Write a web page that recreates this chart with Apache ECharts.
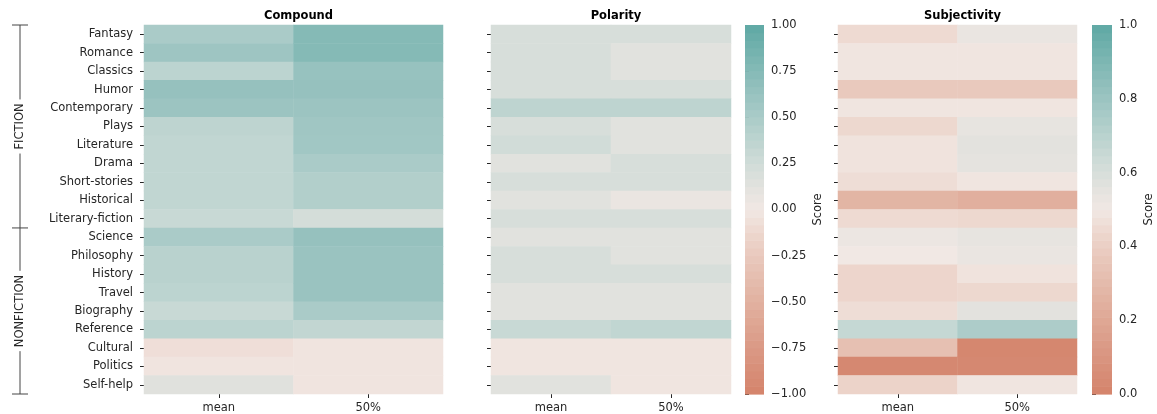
<!DOCTYPE html>
<html>
<head>
<meta charset="utf-8">
<title>Sentiment scores by genre</title>
<script src="https://cdn.jsdelivr.net/npm/echarts@6/dist/echarts.min.js"></script>
<style>
  html, body { margin: 0; padding: 0; background: #ffffff; }
  #chart { width: 1157px; height: 414px; }
</style>
</head>
<body>
<div id="chart"></div>
<script>
// ---- data ----
const genres = ['Fantasy', 'Romance', 'Classics', 'Humor', 'Contemporary', 'Plays', 'Literature',
  'Drama', 'Short-stories', 'Historical', 'Literary-fiction', 'Science', 'Philosophy', 'History',
  'Travel', 'Biography', 'Reference', 'Cultural', 'Politics', 'Self-help'];
const statColumns = ['mean', '50%'];
const groupNames = ['FICTION', 'NONFICTION'];
const groupSizes = [11, 9];
const panelTitles = ['Compound', 'Polarity', 'Subjectivity'];

const compoundMean   = [0.50, 0.58, 0.38, 0.64, 0.60, 0.37, 0.35, 0.35, 0.35, 0.35, 0.30, 0.50, 0.40, 0.40, 0.38, 0.30, 0.38, -0.07, -0.03, 0.14];
const compoundMedian = [0.75, 0.75, 0.63, 0.64, 0.60, 0.57, 0.56, 0.50, 0.45, 0.45, 0.22, 0.64, 0.61, 0.61, 0.61, 0.50, 0.34, -0.03, -0.03, -0.03];
const polarityMean   = [0.20, 0.20, 0.20, 0.20, 0.37, 0.20, 0.24, 0.13, 0.20, 0.13, 0.20, 0.13, 0.20, 0.20, 0.13, 0.13, 0.30, -0.02, -0.02, 0.13];
const polarityMedian = [0.20, 0.13, 0.13, 0.20, 0.37, 0.13, 0.13, 0.20, 0.20, 0.06, 0.20, 0.13, 0.13, 0.20, 0.13, 0.13, 0.35, -0.02, -0.02, -0.02];
const subjMean       = [0.45, 0.49, 0.49, 0.375, 0.49, 0.44, 0.48, 0.48, 0.46, 0.27, 0.45, 0.52, 0.50, 0.43, 0.43, 0.46, 0.66, 0.33, 0.03, 0.42];
const subjMedian     = [0.53, 0.49, 0.49, 0.375, 0.49, 0.54, 0.56, 0.55, 0.49, 0.24, 0.44, 0.54, 0.53, 0.48, 0.44, 0.56, 0.74, 0.02, 0.03, 0.49];

const polarityTicks = { min: -1, max: 1, interval: 0.25, digits: 2 };
const subjTicks = { min: 0, max: 1, interval: 0.2, digits: 1 };

// diverging palette: terracotta -> near white -> teal
const palette = ['#d4836b', '#d78e78', '#da9985', '#dea592', '#e1b1a0', '#e5bdae', '#e9c9bd', '#edd7ce',
  '#f1e8e4', '#e2e2de', '#d0dcd8', '#bdd4d0', '#aacbc8', '#98c2bf', '#85bab6', '#72b1ad', '#5fa8a4'];

// ---- layout ----
const TXT = '#262626';
const FONT = 'DejaVu Sans';
const FS = 11.5;
const PLOT_TOP = 25, PLOT_H = 369;
const panels = [
  { left: 144, width: 299 },
  { left: 491, width: 240 },
  { left: 838, width: 239 }
];
const bars = [
  { left: 745, width: 19 },
  { left: 1092, width: 20 }
];

function cells(a, b) {
  const out = [];
  genres.forEach((g, i) => {
    out.push([0, i, a[i]]);
    out.push([1, i, b[i]]);
  });
  return out;
}

function barSegments(t, n) {
  const out = [];
  const step = (t.max - t.min) / n;
  for (let k = 0; k < n; k++) {
    const lo = t.min + k * step, hi = lo + step;
    out.push([lo, hi, (lo + hi) / 2]);
  }
  return out;
}

function fmtTick(digits) {
  return v => (v < 0 ? '\u2212' : '') + Math.abs(v).toFixed(digits);
}

const grids = [], xAxes = [], yAxes = [], series = [];

panels.forEach((p, k) => {
  grids.push({ left: p.left, top: PLOT_TOP, width: p.width, height: PLOT_H });
  xAxes.push({
    type: 'category', gridIndex: k, data: statColumns, position: 'bottom',
    axisLine: { show: false },
    axisTick: { show: true, alignWithLabel: true, length: 4, lineStyle: { color: TXT, width: 1 } },
    axisLabel: { color: TXT, fontFamily: FONT, fontSize: FS, margin: 8 },
    splitLine: { show: false }
  });
  yAxes.push({
    type: 'category', gridIndex: k, data: genres, inverse: true,
    axisLine: { show: false },
    axisTick: { show: true, alignWithLabel: true, length: 4, lineStyle: { color: TXT, width: 1 } },
    axisLabel: { show: k === 0, color: TXT, fontFamily: FONT, fontSize: FS, margin: 11 },
    splitLine: { show: false }
  });
});

[polarityTicks, subjTicks].forEach((t, k) => {
  const b = bars[k];
  const gi = panels.length + k;
  grids.push({ left: b.left, top: PLOT_TOP, width: b.width, height: PLOT_H });
  xAxes.push({ type: 'value', gridIndex: gi, min: 0, max: 1, show: false });
  yAxes.push({
    type: 'value', gridIndex: gi, position: 'right', min: t.min, max: t.max, interval: t.interval,
    axisLine: { show: false },
    axisTick: { show: true, length: 4, lineStyle: { color: TXT, width: 1 } },
    axisLabel: { color: TXT, fontFamily: FONT, fontSize: FS, margin: 7, formatter: fmtTick(t.digits) },
    splitLine: { show: false },
    name: 'Score', nameLocation: 'middle', nameRotate: 90,
    nameGap: k === 0 ? 48 : 31,
    nameTextStyle: { color: TXT, fontFamily: FONT, fontSize: FS }
  });
});

const heatValues = [
  [compoundMean, compoundMedian],
  [polarityMean, polarityMedian],
  [subjMean, subjMedian]
];
heatValues.forEach((pair, k) => {
  series.push({
    type: 'heatmap', name: panelTitles[k], xAxisIndex: k, yAxisIndex: k,
    data: cells(pair[0], pair[1]),
    itemStyle: { borderWidth: 0 },
    emphasis: { disabled: true }
  });
});

[polarityTicks, subjTicks].forEach((t, k) => {
  const gi = panels.length + k;
  series.push({
    type: 'custom', name: 'colorbar-' + k, xAxisIndex: gi, yAxisIndex: gi,
    data: barSegments(t, 48),
    encode: { x: -1, y: [0, 1] },
    silent: true,
    renderItem(params, api) {
      const lo = api.value(0), hi = api.value(1);
      const a = api.coord([0, hi]);
      const b = api.coord([1, lo]);
      return {
        type: 'rect',
        shape: { x: a[0], y: a[1], width: b[0] - a[0], height: b[1] - a[1] + 0.6 },
        style: { fill: api.visual('color') }
      };
    }
  });
});

const option = {
  backgroundColor: '#ffffff',
  animation: false,
  textStyle: { fontFamily: FONT },
  title: panels.map((p, k) => ({
    text: panelTitles[k],
    left: p.left + p.width / 2,
    top: 5,
    textAlign: 'center',
    textStyle: { color: '#000', fontFamily: FONT, fontSize: FS, fontWeight: 'bold' }
  })),
  grid: grids,
  xAxis: xAxes,
  yAxis: yAxes,
  visualMap: [
    {
      type: 'continuous', show: false, min: polarityTicks.min, max: polarityTicks.max,
      dimension: 2, seriesIndex: [0, 1, 3], inRange: { color: palette }
    },
    {
      type: 'continuous', show: false, min: subjTicks.min, max: subjTicks.max,
      dimension: 2, seriesIndex: [2, 4], inRange: { color: palette }
    }
  ],
  series: series
};

const chart = echarts.init(document.getElementById('chart'), null, { renderer: 'canvas' });
chart.setOption(option);

// group brackets along the left edge, placed from the category axis
const firstY = chart.convertToPixel({ yAxisIndex: 0 }, genres[0]);
const lastY = chart.convertToPixel({ yAxisIndex: 0 }, genres[genres.length - 1]);
const band = (lastY - firstY) / (genres.length - 1);
const bracketTop = firstY - band / 2;
const BX = 20;
const edges = [bracketTop];
let acc = 0;
groupSizes.forEach(n => { acc += n; edges.push(bracketTop + acc * band); });

const elements = [];
elements.push({
  type: 'line', silent: true,
  shape: { x1: BX, y1: edges[0], x2: BX, y2: edges[edges.length - 1] },
  style: { stroke: '#444', lineWidth: 1 }
});
edges.forEach(y => {
  elements.push({
    type: 'line', silent: true,
    shape: { x1: BX - 8, y1: y, x2: BX + 8, y2: y },
    style: { stroke: '#444', lineWidth: 1 }
  });
});
groupNames.forEach((name, k) => {
  elements.push({
    type: 'text', silent: true,
    x: BX, y: (edges[k] + edges[k + 1]) / 2, rotation: Math.PI / 2,
    style: {
      text: name, fill: TXT, font: FS + 'px "DejaVu Sans"',
      align: 'center', verticalAlign: 'middle',
      backgroundColor: '#ffffff', padding: [0, 4]
    }
  });
});
chart.setOption({ graphic: { elements: elements } });
</script>
</body>
</html>
